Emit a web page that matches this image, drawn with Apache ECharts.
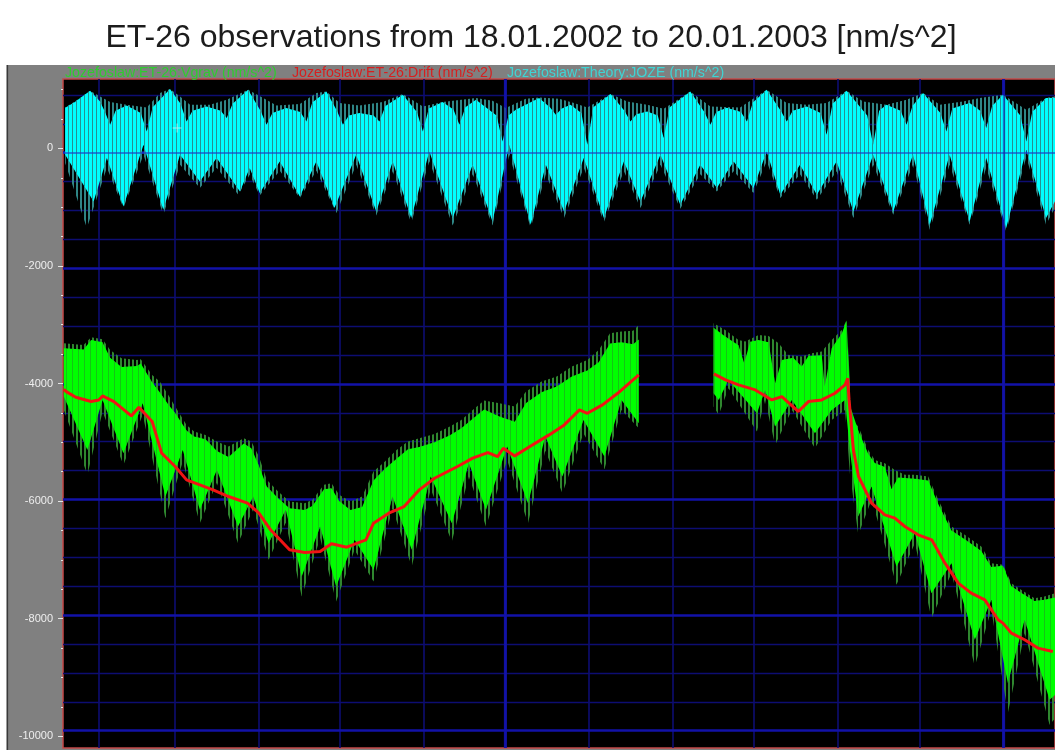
<!DOCTYPE html>
<html>
<head>
<meta charset="utf-8">
<script src="https://cdn.jsdelivr.net/npm/echarts@6/dist/echarts.min.js"></script>
<style>html,body{margin:0;padding:0;background:#fff;}#chart{width:1055px;height:750px;}</style>
</head>
<body>
<div id="chart"></div>
<script>
// ---------------- text ----------------
const chartTitle = 'ET-26 observations from 18.01.2002 to 20.01.2003 [nm/s^2]';
const legendNames = ['Jozefoslaw:ET-26:Vgrav (nm/s^2)', 'Jozefoslaw:ET-26:Drift (nm/s^2)', 'Jozefoslaw:Theory:JOZE (nm/s^2)'];

// ---------------- axes (x in days since 18.01.2002 00:00) ----------------
const xMin = 0.9, xMax = 367;
const monthStartDays = [14, 42, 73, 103, 134, 164, 195, 226, 256, 287, 317, 348];
const majorMonthDays = [164, 348];
const yTickValues = [-10000, -8000, -6000, -4000, -2000, 0];
const yGridMajor = [0, -2000, -4000, -6000, -8000, -10000];
const yGridMinor = [1000, 500, -500, -1000, -1500, -2500, -3000, -3500, -4500, -5000, -5500, -6500, -7000, -7500, -8500, -9000, -9500];

// ---------------- theory (cyan): [day, nm/s^2] envelopes ----------------
const theoryOuterHigh = [[1.7,696],[7.3,855],[10.9,980],[14.6,883],[18.3,787],[24.4,740],[31.8,696],[36.7,940],[40.4,1008],[44.1,883],[47.8,742],[55.1,742],[61.3,827],[69.2,997],[74.8,855],[79.7,730],[88.3,753],[94.4,940],[98.1,968],[103.0,770],[110.3,730],[118.9,787],[126.3,923],[133.7,713],[141.0,787],[153.3,855],[159.4,810],[164.3,685],[171.7,844],[176.6,866],[184.0,844],[189.5,770],[194.4,696],[203.0,923],[209.1,798],[216.5,742],[222.6,674],[232.4,968],[239.8,713],[250.8,696],[260.6,997],[268.0,770],[275.4,742],[282.7,770],[290.1,980],[296.2,798],[304.8,742],[312.2,827],[318.3,940],[324.5,742],[333.0,798],[339.2,855],[347.8,912],[356.4,657],[363.7,855],[367.0,883]];
const theoryInnerHigh = [[1.7,690],[5.0,780],[10.9,980],[14.5,800],[16.2,640],[18.3,402],[20.3,640],[24.4,730],[29.6,600],[31.8,288],[34.0,700],[40.4,1008],[44.3,760],[46.5,458],[48.7,640],[53.9,713],[59.1,640],[61.3,515],[63.5,760],[69.2,997],[73.8,640],[76.0,402],[78.2,600],[83.3,685],[88.5,620],[90.7,458],[92.9,780],[98.1,968],[102.0,640],[104.2,402],[106.4,560],[110.3,600],[115.5,560],[117.7,458],[119.9,720],[126.3,912],[131.5,620],[133.7,288],[135.9,680],[141.0,787],[145.0,660],[147.2,402],[149.4,700],[153.3,827],[160.9,560],[163.1,118],[165.3,560],[168.0,657],[176.6,855],[180.6,700],[182.8,572],[185.0,680],[188.2,742],[192.2,600],[194.4,62],[196.6,700],[203.0,923],[208.1,640],[210.3,458],[212.5,580],[216.5,628],[220.4,560],[222.6,175],[224.8,700],[232.4,968],[237.6,620],[239.8,402],[242.0,620],[245.9,690],[251.1,620],[253.3,458],[255.5,780],[260.6,997],[265.8,640],[268.0,458],[270.2,640],[275.4,713],[280.5,600],[282.7,232],[284.9,760],[290.1,980],[297.7,560],[299.9,62],[302.1,640],[304.8,742],[310.0,640],[312.2,402],[314.4,720],[318.3,940],[324.7,600],[326.9,288],[329.1,680],[335.5,770],[339.4,640],[341.6,345],[343.8,720],[347.8,912],[354.2,560],[356.4,118],[358.6,620],[363.7,855],[367.0,860]];
const theoryInnerLow = [[1.7,-108],[12.2,-902],[17.1,-165],[23.2,-987],[30.6,62],[37.9,-1043],[44.1,-108],[51.4,-562],[57.6,-165],[66.2,-732],[69.8,-335],[73.5,-760],[80.9,-222],[88.3,-817],[94.4,-222],[101.1,-1015],[109.1,-108],[116.5,-1072],[122.6,-222],[129.4,-1185],[136.1,-52],[144.7,-1185],[152.1,-278],[159.4,-1242],[165.6,62],[173.5,-1298],[179.1,-278],[185.8,-1072],[193.1,-165],[200.5,-1185],[207.9,-222],[214.0,-902],[221.4,-108],[228.7,-958],[236.1,-278],[242.2,-675],[248.4,-222],[255.7,-675],[260.6,-52],[265.6,-788],[272.9,-278],[279.1,-788],[286.4,-222],[292.6,-1072],[299.9,-108],[307.3,-1072],[314.6,-108],[320.8,-1298],[328.1,-108],[335.5,-1242],[341.6,-165],[349.0,-1355],[356.4,-23],[363.7,-1185],[367.0,-900]];
const theoryOuterLow = [[1.7,-250],[9.7,-1355],[17.1,-330],[23.2,-1015],[30.6,-110],[37.9,-1128],[44.1,-280],[51.4,-675],[57.6,-330],[65.6,-788],[69.8,-450],[73.5,-800],[80.9,-380],[88.3,-845],[94.4,-380],[101.8,-1100],[109.1,-280],[116.5,-1140],[122.6,-390],[129.4,-1270],[136.1,-220],[144.7,-1310],[152.1,-440],[159.4,-1310],[165.6,-110],[173.5,-1355],[179.1,-440],[185.8,-1185],[193.1,-330],[200.5,-1253],[207.9,-390],[214.0,-1015],[221.4,-280],[228.7,-1026],[236.1,-440],[242.2,-732],[248.4,-390],[255.7,-760],[260.6,-220],[265.6,-845],[272.9,-440],[279.1,-873],[286.4,-390],[292.6,-1185],[299.9,-280],[307.3,-1128],[314.6,-280],[320.8,-1383],[328.1,-280],[335.5,-1298],[341.6,-330],[349.0,-1412],[356.4,-150],[363.7,-1298],[367.0,-1000]];

// ---------------- observed Vgrav (green), two recorded segments ----------------
const vgravOuterHigh1 = [[1.2,-3316],[8.5,-3344],[11.3,-3214],[15.5,-3248],[18.3,-3429],[22.5,-3571],[28.2,-3599],[29.6,-3588],[33.8,-3854],[36.6,-3967],[40.1,-4222],[42.3,-4392],[46.5,-4704],[49.3,-4817],[53.5,-4874],[57.7,-4987],[62.0,-5072],[67.6,-4930],[70.4,-4987],[73.2,-5242],[76.1,-5639],[80.3,-5837],[84.5,-6007],[90.1,-6036],[93.0,-5979],[97.2,-5724],[100.0,-5696],[102.8,-5894],[107.0,-6007],[111.3,-5922],[115.5,-5497],[119.7,-5327],[124.0,-5129],[128.2,-4987],[132.4,-4930],[138.0,-4857],[143.7,-4732],[147.9,-4619],[152.1,-4449],[156.3,-4290],[162.0,-4336],[167.6,-4392],[171.8,-4137],[177.5,-3967],[183.1,-3882],[188.7,-3712],[194.4,-3599],[198.6,-3429],[202.8,-3146],[207.0,-3117],[211.3,-3101],[213.4,-3004]];
const vgravInnerHigh1 = [[1.2,-3400],[8.5,-3420],[11.3,-3260],[15.5,-3300],[18.3,-3560],[22.5,-3720],[28.2,-3700],[29.6,-3660],[33.8,-3980],[36.6,-4150],[40.1,-4380],[42.3,-4500],[46.5,-4800],[49.3,-4900],[53.5,-4950],[57.7,-5150],[62.0,-5250],[67.6,-5020],[70.4,-5100],[73.2,-5400],[76.1,-5750],[80.3,-5950],[84.5,-6120],[90.1,-6150],[93.0,-6080],[97.2,-5800],[100.0,-5780],[102.8,-6000],[107.0,-6150],[111.3,-6100],[115.5,-5650],[119.7,-5450],[124.0,-5280],[128.2,-5120],[132.4,-5080],[138.0,-5000],[143.7,-4880],[147.9,-4760],[152.1,-4600],[156.3,-4440],[162.0,-4560],[167.6,-4650],[171.8,-4330],[177.5,-4150],[183.1,-4050],[188.7,-3880],[194.4,-3780],[198.6,-3640],[202.8,-3320],[207.0,-3300],[211.3,-3330],[213.4,-3250]];
const vgravInnerLow1 = [[1.2,-4222],[9.9,-5129],[15.5,-4279],[23.2,-5186],[30.3,-4336],[38.7,-5922],[45.1,-5129],[51.4,-6149],[57.7,-5469],[65.5,-6432],[71.1,-5922],[76.8,-6716],[83.1,-6149],[89.0,-7282],[95.8,-6432],[101.7,-7452],[108.5,-6659],[115.5,-7169],[122.5,-5922],[129.6,-6829],[136.6,-5582],[144.4,-6376],[150.7,-5356],[157.0,-6149],[164.8,-5072],[172.5,-6036],[178.9,-4902],[185.2,-5582],[193.0,-4619],[200.7,-5242],[207.0,-4279],[213.4,-4676]];
const vgravOuterLow1 = [[1.2,-4449],[9.9,-5554],[15.5,-4480],[23.2,-5384],[30.3,-4530],[38.7,-6291],[45.1,-5330],[51.4,-6376],[57.7,-5690],[65.5,-6716],[71.1,-6140],[76.8,-6999],[83.1,-6370],[89.0,-7622],[95.8,-6630],[101.7,-7707],[108.5,-6830],[115.5,-7367],[122.5,-6130],[129.6,-7112],[136.6,-5800],[144.4,-6687],[150.7,-5580],[157.0,-6432],[164.8,-5300],[172.5,-6376],[178.9,-5140],[185.2,-5866],[193.0,-4850],[200.7,-5458],[207.0,-4450],[213.4,-4760]];

const vgravOuterHigh2 = [[241.0,-2976],[245.3,-3089],[250.2,-3259],[252.7,-3287],[257.6,-3174],[261.3,-3191],[265.0,-3316],[268.6,-3514],[273.5,-3542],[277.2,-3486],[280.9,-3457],[284.6,-3259],[288.3,-3089],[290.1,-2919],[291.0,-3712],[292.0,-4619],[294.4,-4732],[298.1,-5129],[300.5,-5299],[304.2,-5356],[307.9,-5469],[311.6,-5554],[315.3,-5554],[320.2,-5582],[323.9,-5979],[328.8,-6432],[333.7,-6574],[339.8,-6772],[343.5,-7056],[347.8,-7084],[350.9,-7396],[354.5,-7509],[359.4,-7651],[363.1,-7622],[367.0,-7566]];
const vgravInnerHigh2 = [[241.0,-3050],[245.3,-3200],[250.2,-3350],[252.3,-3656],[254.5,-3290],[257.6,-3260],[261.3,-3300],[263.7,-3996],[266.2,-3600],[270.4,-3560],[273.5,-3712],[276.0,-3530],[280.9,-3520],[282.0,-4052],[284.6,-3400],[288.3,-3150],[290.1,-2930],[291.5,-4400],[294.4,-4800],[298.1,-5200],[300.5,-5350],[304.2,-5420],[306.7,-5800],[309.1,-5600],[315.3,-5620],[320.2,-5650],[323.9,-6050],[328.8,-6500],[333.7,-6650],[339.8,-6850],[343.5,-7120],[347.8,-7100],[350.9,-7450],[354.5,-7560],[359.4,-7700],[363.1,-7680],[367.0,-7640]];
const vgravInnerLow2 = [[241.0,-4166],[242.9,-4279],[246.5,-3939],[257.0,-4506],[260.0,-4109],[263.7,-4732],[269.9,-4279],[278.4,-4846],[284.6,-4449],[289.5,-4279],[291.3,-5129],[294.4,-6262],[299.3,-5752],[308.5,-7112],[315.3,-6546],[321.4,-7566],[328.8,-7056],[337.4,-8359],[343.5,-7679],[349.6,-9096],[355.8,-8019],[365.0,-9379],[367.0,-9300]];
const vgravOuterLow2 = [[241.0,-4392],[242.9,-4534],[246.5,-4081],[257.0,-4817],[260.0,-4279],[263.7,-5044],[269.9,-4449],[278.4,-5101],[284.6,-4619],[289.5,-4449],[291.3,-5526],[294.4,-6574],[299.3,-5979],[308.5,-7424],[315.3,-6716],[321.4,-7991],[328.8,-7226],[337.4,-8812],[343.5,-7849],[349.6,-9606],[355.8,-8246],[365.0,-9804],[367.0,-9700]];

// ---------------- drift (red) ----------------
const drift1 = [[1.2,-4100],[2.1,-4138],[5.6,-4234],[11.3,-4307],[14.1,-4279],[15.5,-4211],[19.7,-4307],[26.1,-4551],[28.9,-4404],[33.8,-4647],[37.3,-5185],[42.3,-5412],[46.5,-5639],[56.3,-5809],[62.0,-5922],[69.0,-6036],[73.2,-6206],[77.5,-6489],[84.5,-6829],[90.1,-6874],[95.8,-6857],[100.0,-6727],[105.6,-6784],[112.7,-6659],[115.5,-6376],[121.1,-6206],[126.8,-6093],[132.4,-5809],[138.0,-5611],[146.5,-5412],[152.1,-5270],[157.7,-5174],[161.3,-5242],[163.4,-5101],[167.6,-5231],[173.2,-5072],[180.3,-4874],[185.9,-4704],[191.5,-4449],[194.4,-4506],[200.0,-4364],[205.6,-4166],[213.4,-3854]];
const drift2 = [[241.1,-3837],[245.4,-3939],[250.2,-4024],[256.4,-4109],[262.5,-4279],[266.2,-4222],[272.3,-4477],[276.0,-4307],[280.9,-4279],[285.8,-4166],[289.5,-4024],[290.5,-3911],[291.0,-4279],[292.6,-5129],[294.5,-5582],[299.3,-6036],[304.2,-6234],[307.9,-6291],[311.6,-6432],[316.5,-6574],[321.5,-6659],[326.4,-7056],[331.3,-7396],[336.1,-7566],[341.1,-7679],[346.0,-8019],[347.8,-8076],[350.9,-8246],[355.8,-8359],[360.7,-8501],[366.2,-8557]];

const cursorMark = [[43, 345]];

// ---------------- rendering helpers ----------------
function stripePattern(period, on, color) {
  const c = document.createElement('canvas');
  c.width = period; c.height = 2;
  const g = c.getContext('2d');
  g.fillStyle = color; g.fillRect(0, 0, on, 2);
  return { image: c, repeat: 'repeat' };
}
function band(name, upper, lower, fill, z, opacity) {
  return {
    type: 'custom', name: name, z: z, silent: true,
    xAxisIndex: 0, yAxisIndex: 0,
    data: [[upper[0][0], upper[0][1]]],
    encode: { x: 0, y: 1 },
    renderItem: function (params, api) {
      const pts = [];
      for (let i = 0; i < upper.length; i++) pts.push(api.coord(upper[i]));
      for (let i = lower.length - 1; i >= 0; i--) pts.push(api.coord(lower[i]));
      return { type: 'polygon', shape: { points: pts }, style: { fill: fill, opacity: opacity == null ? 1 : opacity } };
    }
  };
}
function gridSeries(lines, z) {
  return {
    type: 'line', name: 'grid' + z, z: z, silent: true, xAxisIndex: 0, yAxisIndex: 1,
    data: [[xMin, 0]], showSymbol: false, lineStyle: { opacity: 0 },
    markLine: { z: z, silent: true, animation: false, symbol: ['none', 'none'], label: { show: false }, emphasis: { disabled: true }, data: lines }
  };
}

const cyanDark = stripePattern(4, 2, '#2f8686');
const cyanInner = stripePattern(4, 1, '#2a8686');
const greenDark = stripePattern(4, 2, '#2f872f');
const greenInner = stripePattern(6, 1, '#2a8a2a');

const minorStyle = { color: '#0d0d72', width: 1.3, type: 'solid' };
const majorStyle = { color: '#1212a8', width: 2.6, type: 'solid' };
const baseGridLines = []
  .concat(yGridMinor.map(v => ({ yAxis: v, lineStyle: minorStyle })))
  .concat(monthStartDays.filter(d => majorMonthDays.indexOf(d) < 0).map(d => ({ xAxis: d, lineStyle: { color: '#0d0d72', width: 1.6, type: 'solid' } })))
  .concat(yGridMajor.map(v => ({ yAxis: v, lineStyle: majorStyle })))
  .concat(majorMonthDays.map(d => ({ xAxis: d, lineStyle: { color: '#1212a8', width: 2.8, type: 'solid' } })));
// major lines seen through the theory trace
const overlayGridLines = [{ yAxis: 0, lineStyle: { color: '#1a3cc8', width: 2, opacity: 0.6, type: 'solid' } }]
  .concat(majorMonthDays.map(d => ({ xAxis: d, lineStyle: { color: '#1212a8', width: 2.4, opacity: 0.55, type: 'solid' } })));

const legendColors = ['#2ecc2e', '#d81e1e', '#3fd4d4'];
const legendX = [65, 292, 507];

const chart = echarts.init(document.getElementById('chart'), null, { renderer: 'canvas' });
const option = {
  animation: false,
  textStyle: { fontFamily: 'Liberation Sans, Arial, sans-serif' },
  graphic: [
    { type: 'rect', z: -10, silent: true, shape: { x: 8, y: 65, width: 1050, height: 690 }, style: { fill: '#808080' } },
    { type: 'rect', z: -9, silent: true, shape: { x: 6.5, y: 65, width: 1.6, height: 690 }, style: { fill: '#3a3a3a' } },
    { type: 'text', z: 10, silent: true, style: { text: chartTitle, x: 531, y: 38, align: 'center', verticalAlign: 'middle', textAlign: 'center', textVerticalAlign: 'middle', font: '32px "Liberation Sans", Arial, sans-serif', fill: '#1c1c1c' } }
  ].concat(legendNames.map((n, i) => ({
    type: 'text', z: 10, silent: true,
    style: { text: n, x: legendX[i], y: 73.5, verticalAlign: 'middle', textVerticalAlign: 'middle', font: '14.2px "Liberation Sans", Arial, sans-serif', fill: legendColors[i] }
  }))),
  grid: { left: 63, top: 79, width: 994, height: 669, show: true, backgroundColor: '#000000', borderColor: '#c24848', borderWidth: 1.5 },
  xAxis: [{ type: 'value', min: xMin, max: xMax, show: false }],
  yAxis: [
    {
      type: 'value', min: -10200, max: 1180, position: 'left',
      axisLine: { show: false },
      axisTick: { show: true, length: 5, customValues: yTickValues, lineStyle: { color: '#e4e4e4', width: 1 } },
      minorTick: { show: true, splitNumber: 4, length: 2, lineStyle: { color: '#e4e4e4', width: 1 } },
      axisLabel: { show: true, customValues: yTickValues, formatter: function (v) { return String(Math.round(v)); }, color: '#eeeeee', fontSize: 11, margin: 10, fontFamily: 'Liberation Sans, Arial, sans-serif' },
      splitLine: { show: false }, minorSplitLine: { show: false }
    },
    { type: 'value', min: -10300, max: 1275, show: false, splitLine: { show: false } }
  ],
  series: [
    gridSeries(baseGridLines, 1),
    band(legendNames[2], theoryOuterHigh, theoryOuterLow, cyanDark, 2),
    band(legendNames[2], theoryInnerHigh, theoryInnerLow, '#00ffff', 3),
    band(legendNames[2], theoryInnerHigh, theoryInnerLow, cyanInner, 4, 0.9),
    gridSeries(overlayGridLines, 5),
    band(legendNames[0], vgravOuterHigh1, vgravOuterLow1, greenDark, 6),
    band(legendNames[0], vgravOuterHigh2, vgravOuterLow2, greenDark, 6),
    band(legendNames[0], vgravInnerHigh1, vgravInnerLow1, '#00ff00', 7),
    band(legendNames[0], vgravInnerHigh2, vgravInnerLow2, '#00ff00', 7),
    band(legendNames[0], vgravInnerHigh1, vgravInnerLow1, greenInner, 8, 0.5),
    band(legendNames[0], vgravInnerHigh2, vgravInnerLow2, greenInner, 8, 0.5),
    { type: 'line', name: legendNames[1], z: 9, silent: true, data: drift1, showSymbol: false, lineStyle: { color: '#f01414', width: 3 } },
    { type: 'line', name: legendNames[1], z: 9, silent: true, data: drift2, showSymbol: false, lineStyle: { color: '#f01414', width: 3 } },
    { type: 'scatter', name: 'cursor', z: 10, silent: true, data: cursorMark, symbol: 'path://M4,0H5V4H9V5H5V9H4V5H0V4H4Z', symbolSize: 9, itemStyle: { color: '#c8f4f4' } }
  ]
};
chart.setOption(option);
</script>
</body>
</html>
